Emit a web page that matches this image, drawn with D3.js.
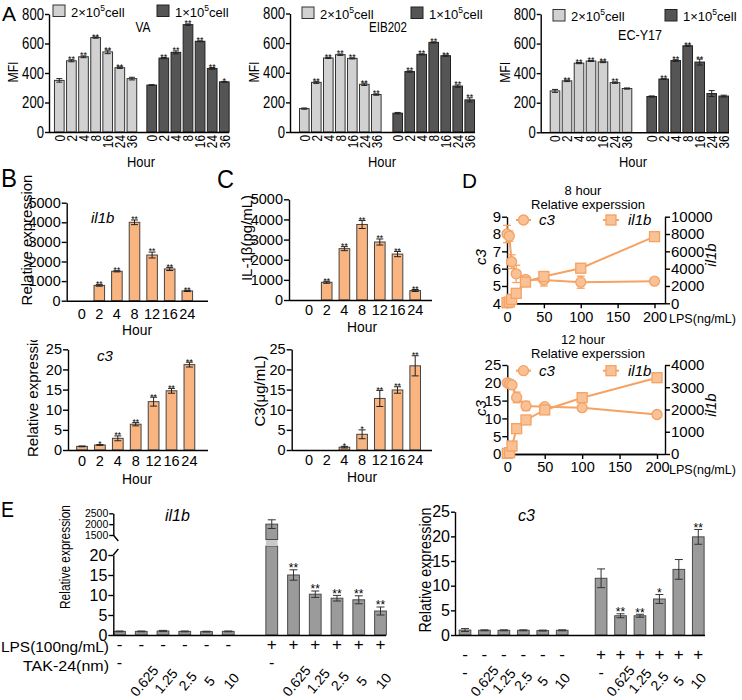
<!DOCTYPE html>
<html><head><meta charset="utf-8">
<script src="https://cdn.jsdelivr.net/npm/d3@7"></script>
<style>body{margin:0;background:#fff}</style>
</head><body><svg id="chart" width="742" height="700" style="background:#fff"></svg>
<script>
// ================= DATA =================
// Panel A
const hoursA = ["0","2","4","8","16","24","36"];
const vaHi = [350,483,510,640,543,436,362], vaHiErr = [12,7,6,4,12,5,9], vaHiSig = ["","**","**","**","**","**",""];
const vaLo = [318,501,540,728,615,431,340], vaLoErr = [3,4,10,5,3,6,3], vaLoSig = ["","**","**","**","**","**","*"];
const eibHi = [158,335,500,522,497,322,253], eibHiErr = [4,7,4,5,4,8,5], eibHiSig = ["","**","**","**","**","**","**"];
const eibLo = [127,408,524,605,515,310,217], eibLoErr = [5,5,4,4,4,8,14], eibLoSig = ["","**","**","**","**","**","**"];
const ecHi = [280,348,468,482,476,336,296], ecHiErr = [10,5,4,3,5,5,4], ecHiSig = ["","**","**","**","**","**",""];
const ecLo = [242,360,485,585,475,262,245], ecLoErr = [4,3,6,4,20,20,6], ecLoSig = ["","**","**","**","**","",""];
const mfiTicks = [0,200,400,600,800];
// Panel B / C
const hoursB = ["0","2","4","8","12","16","24"];
const bIl1b = [0,780,1500,4000,2330,1620,500], bIl1bErr = [0,40,30,120,150,80,30], bIl1bSig = ["","**","**","**","**","**","**"];
const bC3 = [0.9,1.25,2.9,6.4,12.0,14.7,21.2], bC3Err = [0.1,0.1,0.6,0.4,1.1,0.6,0.6], bC3Sig = ["","*","**","**","**","**","**"];
const cIl1b = [0,880,2550,3750,2880,2280,470], cIl1bErr = [0,50,100,200,150,130,50], cIl1bSig = ["","**","**","**","**","**","**"];
const cC3 = [0,0,0.7,3.9,12.8,14.9,20.9], cC3Err = [0,0,0.2,1.1,2.0,0.8,2.5], cC3Sig = ["","","*","*","**","**","**"];
const ticks5000 = [0,1000,2000,3000,4000,5000];
const ticks25 = [0,5,10,15,20,25];
// Panel D
const lpsDose = [0,3.125,6.25,12.5,25,50,100,200];
const c3h8 = [8.0,7.88,6.4,5.7,5.38,5.35,5.22,5.28], c3h8Err = [0.5,0.3,0.4,0.5,0.2,0.35,0.35,0.15];
const il1bh8 = [60,150,450,1150,2450,3100,4050,7700], il1bh8Err = [50,50,100,150,250,250,500,400];
const c3h12 = [20.0,19.7,19.4,15.9,13.5,13.3,13.0,11.1], c3h12Err = [1.0,1.2,1.0,1.5,1.3,0.5,0.4,0.8];
const il1bh12 = [30,60,360,1140,1530,1980,2530,3430], il1bh12Err = [20,30,80,200,60,80,80,200];
const doseTicks = [0,50,100,150,200];
// Panel E
const takLabels = ["-","0.625","1.25","2.5","5","10"];
const eIl1bNo = [0.9,0.9,1.0,0.9,0.85,0.9], eIl1bNoErr = [0.1,0.1,0.15,0.1,0.1,0.1];
const eIl1bLps = [2000,15.0,10.2,9.2,8.8,6.0], eIl1bLpsErr = [200,1.3,0.8,0.7,1.0,1.0], eIl1bSig = ["","**","**","**","**","**"];
const eC3No = [1.0,0.95,0.95,0.95,0.9,0.95], eC3NoErr = [0.3,0.1,0.1,0.1,0.1,0.1];
const eC3Lps = [11.5,3.9,3.9,7.3,13.3,19.9], eC3LpsErr = [1.9,0.4,0.3,0.9,2.0,1.5], eC3Sig = ["","**","**","*","","**"];

// ================= HELPERS =================
const svg = d3.select("#chart");
const FR = "'Liberation Sans',Arial,Helvetica,sans-serif";

function txt(x, y, s, o = {}) {
  const t = (o.parent || svg).append("text").attr("x", x).attr("y", y).text(s)
    .attr("font-family", o.ff || FR).attr("font-size", o.fs || 15).attr("fill", o.fill || "#000")
    .attr("text-anchor", o.anchor || "start");
  if (o.italic) t.attr("font-style", "italic");
  if (o.len) t.attr("textLength", o.len).attr("lengthAdjust", "spacingAndGlyphs");
  if (o.rot != null) t.attr("transform", `rotate(${o.rot},${x},${y})`);
  return t;
}
function styleAxis(g, fs, ff, digitW) {
  g.attr("font-size", fs).attr("font-family", ff);
  g.select(".domain").attr("stroke", "#000").attr("stroke-width", 1.4);
  g.selectAll(".tick line").attr("stroke", "#000").attr("stroke-width", 1.4);
  g.selectAll(".tick text").attr("fill", "#000");
  if (digitW) g.selectAll(".tick text").attr("textLength", d => String(d).length * digitW).attr("lengthAdjust", "spacingAndGlyphs");
  return g;
}
function axisL(y, x, ticks, fs, ts = 5, pad = 1, digitW) {
  return styleAxis(svg.append("g").attr("transform", `translate(${x},0)`)
    .call(d3.axisLeft(y).tickValues(ticks).tickSize(ts).tickSizeOuter(0).tickPadding(pad).tickFormat(d3.format("d"))), fs, FR, digitW);
}
function hline(x1, x2, y) {
  svg.append("line").attr("x1", x1).attr("x2", x2).attr("y1", y).attr("y2", y)
    .attr("stroke", "#000").attr("stroke-width", 1.4);
}
function bandAt(domain, c1, step, pad) {
  return d3.scaleBand().domain(domain).range([c1 - step / 2, c1 + (domain.length - 0.5) * step])
    .paddingInner(pad).paddingOuter(pad / 2);
}
function drawBars(x, y, cats, vals, errs, sigs, st) {
  const data = cats.map((c, i) => ({ c, v: vals[i], e: errs[i], s: sigs ? sigs[i] : "" })).filter(d => d.v > 0);
  const g = svg.append("g");
  const cx = d => x(d.c) + x.bandwidth() / 2;
  const ec = st.ec || "#222";
  g.selectAll("rect").data(data).join("rect")
    .attr("x", d => x(d.c)).attr("width", x.bandwidth())
    .attr("y", d => y(d.v)).attr("height", d => y(0) - y(d.v))
    .attr("fill", st.fill).attr("stroke", st.stroke).attr("stroke-width", st.sw || 1);
  const eb = data.filter(d => d.e > 0);
  const cap = st.cap || 3;
  g.selectAll(".ev").data(eb).join("line").attr("x1", cx).attr("x2", cx)
    .attr("y1", d => y(d.v - d.e)).attr("y2", d => y(d.v + d.e)).attr("stroke", ec).attr("stroke-width", 1);
  g.selectAll(".et").data(eb).join("line").attr("x1", d => cx(d) - cap).attr("x2", d => cx(d) + cap)
    .attr("y1", d => y(d.v + d.e)).attr("y2", d => y(d.v + d.e)).attr("stroke", ec).attr("stroke-width", 1);
  g.selectAll(".eb").data(eb).join("line").attr("x1", d => cx(d) - cap).attr("x2", d => cx(d) + cap)
    .attr("y1", d => y(d.v - d.e)).attr("y2", d => y(d.v - d.e)).attr("stroke", ec).attr("stroke-width", 1);
  g.selectAll(".st").data(data.filter(d => d.s)).join("text")
    .attr("x", cx).attr("y", d => y(d.v + d.e) - (st.sg || 1.5) + (st.sfs || 9) * 0.45)
    .attr("text-anchor", "middle").attr("font-family", FR).attr("font-size", st.sfs || 9).text(d => d.s);
}

// ================= PANEL A =================
txt(2, 21, "A", { fs: 21 });
const aCfg = [
  { title: "VA", tl: 15, hi: vaHi, hiE: vaHiErr, hiS: vaHiSig, lo: vaLo, loE: vaLoErr, loS: vaLoSig,
    ax: 49, y0: 132, y1: 14, c1: 59.3, c2: 151.7, step: 12.1, end: 229, tx: 143, ty: 32, mfi: 18,
    sw1: 53, sw2: 157, ly: 5, hour: 141 },
  { title: "EIB202", tl: 38, hi: eibHi, hiE: eibHiErr, hiS: eibHiSig, lo: eibLo, loE: eibLoErr, loS: eibLoSig,
    ax: 290, y0: 132, y1: 13.5, c1: 304.3, c2: 397.7, step: 12, end: 475, tx: 388, ty: 32, mfi: 259,
    sw1: 302, sw2: 411, ly: 7, hour: 382 },
  { title: "EC-Y17", tl: 44, hi: ecHi, hiE: ecHiErr, hiS: ecHiSig, lo: ecLo, loE: ecLoErr, loS: ecLoSig,
    ax: 540.7, y0: 132.3, y1: 14, c1: 555, c2: 651.7, step: 12, end: 729, tx: 640, ty: 40, mfi: 510,
    sw1: 553, sw2: 665, ly: 9.5, hour: 633 }
];
aCfg.forEach(p => {
  const y = d3.scaleLinear().domain([0, 800]).range([p.y0, p.y1]);
  const x1 = bandAt(hoursA, p.c1, p.step, 0.2);
  const x2 = bandAt(hoursA, p.c2, p.step, 0.2);
  drawBars(x1, y, hoursA, p.hi, p.hiE, p.hiS, { fill: "#d1d1d1", stroke: "#333", cap: 3, sfs: 9 });
  drawBars(x2, y, hoursA, p.lo, p.loE, p.loS, { fill: "#555555", stroke: "#222", cap: 3, sfs: 9 });
  axisL(y, p.ax, mfiTicks, 16, 4, 1, 7.3);
  hline(p.ax, p.end, p.y0 + 0.5);
  [x1, x2].forEach(x => hoursA.forEach(h => {
    const cx = x(h) + x.bandwidth() / 2;
    txt(cx, p.y0 + 3, h, { fs: 14.5, anchor: "end", rot: -90, len: h.length * 6.6 }).attr("dy", "0.36em");
  }));
  txt(p.mfi, p.y0 - 60, "MFI", { fs: 15, anchor: "middle", rot: -90, len: 21 });
  txt(p.tx, p.ty, p.title, { fs: 14.5, anchor: "middle", len: p.tl });
  txt(p.hour, 167, "Hour", { fs: 15, anchor: "middle", len: 28 });
  // legend
  svg.append("rect").attr("x", p.sw1).attr("y", p.ly).attr("width", 12).attr("height", 11.5)
    .attr("fill", "#d1d1d1").attr("stroke", "#333");
  svg.append("rect").attr("x", p.sw2).attr("y", p.ly).attr("width", 12).attr("height", 11.5)
    .attr("fill", "#555555").attr("stroke", "#222");
  [[p.sw1 + 18, "2"], [p.sw2 + 18, "1"]].forEach(([lx, n]) => {
    const t = txt(lx, p.ly + 11.5, "", { fs: 13 });
    t.append("tspan").text(n + "×10");
    t.append("tspan").attr("font-size", 8.5).attr("dy", -6).text("5");
    t.append("tspan").attr("dy", 6).text("cell");
  });
});

// ================= PANEL B & C =================
txt(1, 187, "B", { fs: 26, len: 16 });
txt(217, 188, "C", { fs: 26, len: 17 });
const orange = { fill: "#f9b47f", stroke: "#444", cap: 3.5, sfs: 8.5 };
const bcCfg = [
  { vals: bIl1b, err: bIl1bErr, sig: bIl1bSig, max: 5000, ticks: ticks5000, ax: 66.7, y0: 300.7, y1: 202.7, c1: 81.7, step: 17.6, end: 208, tickY: 318.5, hourY: 335, hourX: 137 },
  { vals: bC3, err: bC3Err, sig: bC3Sig, max: 25, ticks: ticks25, ax: 68, y0: 450, y1: 349.3, c1: 82, step: 17.9, end: 208, tickY: 466, hourY: 483.5, hourX: 137 },
  { vals: cIl1b, err: cIl1bErr, sig: cIl1bSig, max: 5000, ticks: ticks5000, ax: 289, y0: 300, y1: 199.3, c1: 309, step: 17.7, end: 432, tickY: 315, hourY: 331.5, hourX: 362 },
  { vals: cC3, err: cC3Err, sig: cC3Sig, max: 25, ticks: ticks25, ax: 291.7, y0: 450, y1: 349.3, c1: 309, step: 17.7, end: 432, tickY: 465, hourY: 481.5, hourX: 362 }
];
bcCfg.forEach(p => {
  const y = d3.scaleLinear().domain([0, p.max]).range([p.y0, p.y1]);
  const x = bandAt(hoursB, p.c1, p.step, 0.4);
  drawBars(x, y, hoursB, p.vals, p.err, p.sig, orange);
  axisL(y, p.ax, p.ticks, 14.5, 5, 1);
  hline(p.ax, p.end, p.y0 + 0.5);
  hoursB.forEach(h => txt(x(h) + x.bandwidth() / 2, p.tickY, h, { fs: 14.5, anchor: "middle" }));
  txt(p.hourX, p.hourY, "Hour", { fs: 15.5, anchor: "middle", len: 30 });
});
txt(32, 240, "Relative  expression", { fs: 15, anchor: "middle", rot: -90 });
svg.append("clipPath").attr("id", "clipB").append("rect").attr("x", 0).attr("y", 340).attr("width", 60).attr("height", 160);
const clipG = svg.append("g").attr("clip-path", "url(#clipB)");
txt(38, 457, "Relative  expression", { fs: 15, anchor: "start", rot: -90, parent: clipG });
txt(91, 223, "il1b", { fs: 15, italic: true });
txt(97, 361, "c3", { fs: 15, italic: true });
txt(252, 238, "IL-1β(pg/mL)", { fs: 15, anchor: "middle", rot: -90 });
txt(265, 391, "C3(μg/mL)", { fs: 15, anchor: "middle", rot: -90 });

// ================= PANEL D =================
txt(462, 188, "D", { fs: 21, len: 15 });
const lineC = "#f5a263", fillC = "#f9c196";
const dCfg = [
  { c3: c3h8, c3E: c3h8Err, il: il1bh8, ilE: il1bh8Err, lDom: [4, 9], lTicks: [4,5,6,7,8,9], rDom: [0, 10000], rTicks: [0,2000,4000,6000,8000,10000],
    y0: 303.3, y1: 216.7, x0: 507, x200: 654.5, t1: "8 hour", t1y: 195, t2y: 208.5, legY: 220, lab1y: 257, lab2y: 255 },
  { c3: c3h12, c3E: c3h12Err, il: il1bh12, ilE: il1bh12Err, lDom: [0, 25], lTicks: [0,5,10,15,20,25], rDom: [0, 4000], rTicks: [0,1000,2000,3000,4000],
    y0: 454, y1: 365, x0: 507.3, x200: 657, t1: "12 hour", t1y: 344, t2y: 357.5, legY: 370.7, lab1y: 408, lab2y: 405 }
];
dCfg.forEach(p => {
  const x = d3.scaleLinear().domain([0, 200]).range([p.x0, p.x200]);
  const yl = d3.scaleLinear().domain(p.lDom).range([p.y0, p.y1]);
  const yr = d3.scaleLinear().domain(p.rDom).range([p.y0, p.y1]);
  const rx = 665;
  axisL(yl, p.x0, p.lTicks, 15, 5, 1);
  styleAxis(svg.append("g").attr("transform", `translate(${rx},0)`)
    .call(d3.axisRight(yr).tickValues(p.rTicks).tickSize(5).tickSizeOuter(0).tickPadding(1).tickFormat(d3.format("d"))), 15, FR);
  styleAxis(svg.append("g").attr("transform", `translate(0,${p.y0})`)
    .call(d3.axisBottom(x).tickValues(doseTicks).tickSize(5).tickSizeOuter(0).tickPadding(3).tickFormat(d3.format("d"))), 14.5, FR);
  hline(p.x0, rx, p.y0 + 0.5);
  const series = [
    { v: p.c3, e: p.c3E, y: yl, shape: "circle" },
    { v: p.il, e: p.ilE, y: yr, shape: "square" }
  ];
  series.forEach(s => {
    const pts = lpsDose.map((d, i) => ({ d, v: s.v[i], e: s.e[i] }));
    const g = svg.append("g");
    g.append("path").datum(pts).attr("fill", "none").attr("stroke", lineC).attr("stroke-width", 2)
      .attr("d", d3.line().x(d => x(d.d)).y(d => s.y(d.v)));
    pts.forEach(d => {
      const cx = x(d.d), yt = s.y(d.v + d.e), yb = s.y(Math.max(d.v - d.e, s.y.domain()[0]));
      g.append("line").attr("x1", cx).attr("x2", cx).attr("y1", yt).attr("y2", yb).attr("stroke", lineC).attr("stroke-width", 1.3);
      [yt, yb].forEach(yy => g.append("line").attr("x1", cx - 4).attr("x2", cx + 4).attr("y1", yy).attr("y2", yy).attr("stroke", lineC).attr("stroke-width", 1.3));
    });
    pts.forEach(d => {
      const cx = x(d.d), cy = s.y(d.v);
      if (s.shape === "circle") g.append("circle").attr("cx", cx).attr("cy", cy).attr("r", 5).attr("fill", fillC).attr("stroke", lineC).attr("stroke-width", 1.3);
      else g.append("rect").attr("x", cx - 5).attr("y", cy - 5).attr("width", 10).attr("height", 10).attr("fill", fillC).attr("stroke", lineC).attr("stroke-width", 1.3);
    });
  });
  txt(583, p.t1y, p.t1, { fs: 13, anchor: "middle" });
  txt(588, p.t2y, "Relative  experssion", { fs: 13, anchor: "middle", len: 114 });
  svg.append("line").attr("x1", 516).attr("x2", 531).attr("y1", p.legY).attr("y2", p.legY).attr("stroke", lineC).attr("stroke-width", 2);
  svg.append("circle").attr("cx", 523.5).attr("cy", p.legY).attr("r", 5).attr("fill", fillC).attr("stroke", lineC).attr("stroke-width", 1.3);
  txt(539, p.legY + 5, "c3", { fs: 15, italic: true });
  svg.append("line").attr("x1", 603).attr("x2", 619).attr("y1", p.legY).attr("y2", p.legY).attr("stroke", lineC).attr("stroke-width", 2);
  svg.append("rect").attr("x", 606).attr("y", p.legY - 5).attr("width", 10).attr("height", 10).attr("fill", fillC).attr("stroke", lineC).attr("stroke-width", 1.3);
  txt(628, p.legY + 5, "il1b", { fs: 15, italic: true });
  txt(486, p.lab1y, "c3", { fs: 15, italic: true, anchor: "middle", rot: -90 });
  txt(716, p.lab2y, "il1b", { fs: 15, italic: true, anchor: "middle", rot: -90 });
  txt(669, p.y0 + 19.5, "LPS(ng/mL)", { fs: 13.5, len: 67 });
});

// ================= PANEL E =================
txt(1, 517, "E", { fs: 22, len: 13 });
const eDomain = takLabels.map(t => "n" + t).concat(["gap"], takLabels.map(t => "p" + t));
const grayBar = { fill: "#9b9b9b", stroke: "#4a4a4a", cap: 4, sfs: 12, sg: 3, ec: "#333" };

// E left (il1b) with broken axis
{
  const ax = 113.3, y0 = 635;
  const yLow = d3.scaleLinear().domain([0, 20]).range([y0, 555]);
  const yUp = d3.scaleLinear().domain([1500, 2500]).range([535, 513.3]);
  const x = bandAt(eDomain, 119.5, 21.75, 0.46);
  const noKeys = takLabels.map(t => "n" + t), pKeys = takLabels.map(t => "p" + t);
  drawBars(x, yLow, noKeys, eIl1bNo, eIl1bNoErr, null, grayBar);
  const lowIdx = eIl1bLps.map((v, i) => i).filter(i => eIl1bLps[i] <= 20);
  drawBars(x, yLow, lowIdx.map(i => pKeys[i]), lowIdx.map(i => eIl1bLps[i]), lowIdx.map(i => eIl1bLpsErr[i]), lowIdx.map(i => eIl1bSig[i]), grayBar);
  eIl1bLps.forEach((v, i) => {
    if (v <= 20) return;
    const bx = x(pKeys[i]), bw = x.bandwidth(), cx = bx + bw / 2, e = eIl1bLpsErr[i];
    svg.append("rect").attr("x", bx).attr("y", 546).attr("width", bw).attr("height", y0 - 546).attr("fill", grayBar.fill).attr("stroke", grayBar.stroke);
    svg.append("rect").attr("x", bx).attr("y", 539.5).attr("width", bw).attr("height", 6.5).attr("fill", "#c9c9c9");
    svg.append("rect").attr("x", bx).attr("y", yUp(v)).attr("width", bw).attr("height", 539.5 - yUp(v)).attr("fill", grayBar.fill).attr("stroke", grayBar.stroke);
    svg.append("line").attr("x1", cx).attr("x2", cx).attr("y1", yUp(v + e)).attr("y2", yUp(v - e)).attr("stroke", "#333");
    [v + e, v - e].forEach(vv => svg.append("line").attr("x1", cx - 4).attr("x2", cx + 4).attr("y1", yUp(vv)).attr("y2", yUp(vv)).attr("stroke", "#333"));
  });
  axisL(yLow, ax, [0, 5, 10, 15, 20], 16, 5, 1);
  axisL(yUp, ax, [1500, 2000, 2500], 10.5, 4, 1);
  svg.append("line").attr("x1", ax).attr("x2", ax + 5).attr("y1", 535).attr("y2", 541).attr("stroke", "#000").attr("stroke-width", 1.4);
  svg.append("line").attr("x1", ax).attr("x2", ax + 5).attr("y1", 555).attr("y2", 549).attr("stroke", "#000").attr("stroke-width", 1.4);
  hline(ax, 386, y0 + 0.5);
  txt(70, 557, "Relative expression", { fs: 15, anchor: "middle", rot: -90, len: 104 });
  txt(165, 521, "il1b", { fs: 16, italic: true });
  txt(109, 651.5, "LPS(100ng/mL)", { fs: 15, anchor: "end", len: 108 });
  txt(109, 671, "TAK-24(nm)", { fs: 15.5, anchor: "end", len: 86 });
  noKeys.forEach(k => txt(x(k) + x.bandwidth() / 2, 650, "-", { fs: 17, anchor: "middle" }));
  pKeys.forEach(k => txt(x(k) + x.bandwidth() / 2, 650, "+", { fs: 17, anchor: "middle" }));
  [noKeys, pKeys].forEach(keys => keys.forEach((k, i) => {
    const cx = x(k) + x.bandwidth() / 2;
    if (i === 0) txt(cx, 668, takLabels[i], { fs: 16, anchor: "middle" });
    else txt(cx + 3, 681, takLabels[i], { fs: 14, anchor: "middle", rot: -50 }).attr("dy", "0.35em");
  }));
}
// E right (c3)
{
  const ax = 455, y0 = 635;
  const y = d3.scaleLinear().domain([0, 25]).range([y0, 511.7]);
  const x = bandAt(eDomain, 465, 19.44, 0.4);
  const noKeys = takLabels.map(t => "n" + t), pKeys = takLabels.map(t => "p" + t);
  drawBars(x, y, noKeys, eC3No, eC3NoErr, null, grayBar);
  drawBars(x, y, pKeys, eC3Lps, eC3LpsErr, eC3Sig, grayBar);
  axisL(y, ax, ticks25, 16, 4, 1);
  hline(ax, 705, y0 + 0.5);
  txt(431, 570, "Relative expression", { fs: 16, anchor: "middle", rot: -90, len: 125 });
  txt(518, 521, "c3", { fs: 16, italic: true });
  noKeys.forEach(k => txt(x(k) + x.bandwidth() / 2, 660, "-", { fs: 17, anchor: "middle" }));
  pKeys.forEach(k => txt(x(k) + x.bandwidth() / 2, 660, "+", { fs: 17, anchor: "middle" }));
  [noKeys, pKeys].forEach(keys => keys.forEach((k, i) => {
    const cx = x(k) + x.bandwidth() / 2;
    if (i === 0) txt(cx, 678, takLabels[i], { fs: 16, anchor: "middle" });
    else txt(cx, 681, takLabels[i], { fs: 14, anchor: "middle", rot: -50 }).attr("dy", "0.35em");
  }));
}
</script></body></html>
